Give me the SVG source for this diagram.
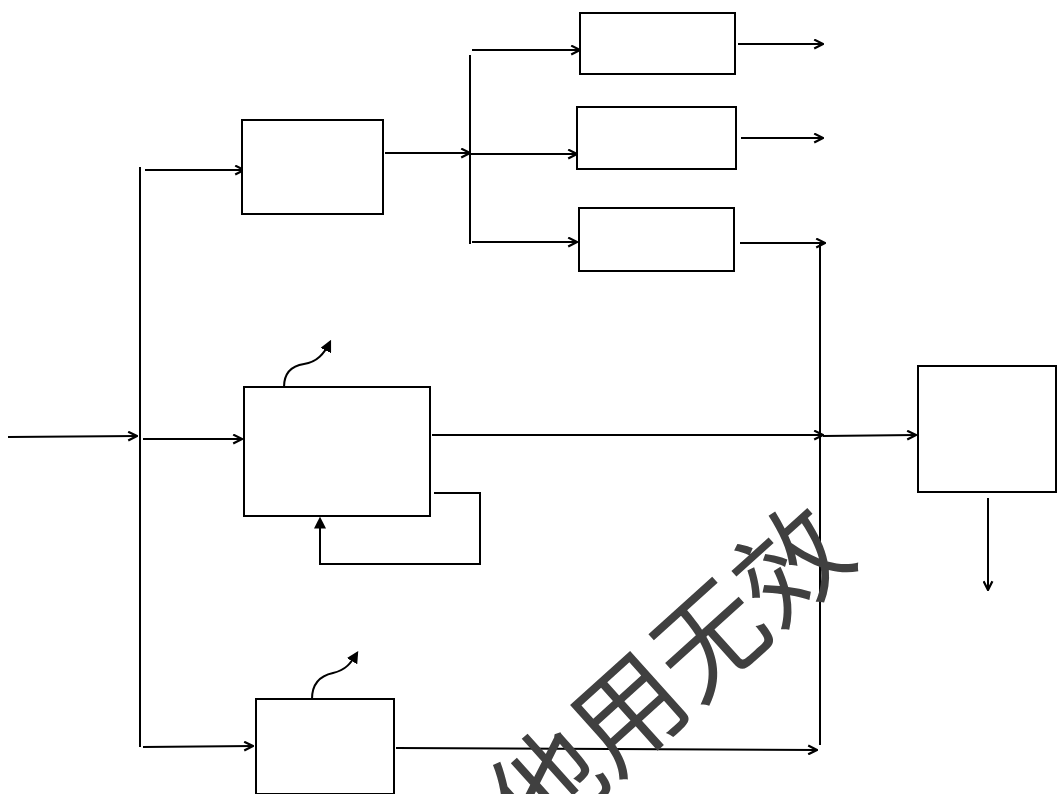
<svg xmlns="http://www.w3.org/2000/svg" width="1057" height="794" viewBox="0 0 1057 794">
<defs>
<style>
.box{fill:#fff;stroke:#000;stroke-width:2}
.ln{fill:none;stroke:#000;stroke-width:2}
.ar{fill:none;stroke:#000;stroke-width:2;marker-end:url(#arr)}
.wv{fill:none;stroke:#000;stroke-width:2;marker-end:url(#tri)}
.wm{font-family:"Noto Sans CJK SC","Noto Sans CJK JP",sans-serif;font-size:110px;fill:#404040}
</style>
<marker id="arr" viewBox="0 0 10 10" refX="9" refY="5" markerWidth="11" markerHeight="11" markerUnits="userSpaceOnUse" orient="auto">
<path d="M1,1 L9,5 L1,9" fill="none" stroke="#000" stroke-width="2"/>
</marker>
<marker id="tri" viewBox="0 0 10 10" refX="8" refY="5" markerWidth="12" markerHeight="12" markerUnits="userSpaceOnUse" orient="auto">
<path d="M0,0 L10,5 L0,10 Z" fill="#000"/>
</marker>
</defs>
<rect width="1057" height="794" fill="#fff"/>
<g id="connectors">
<line class="ar" x1="8" y1="437" x2="137" y2="436"/>
<line class="ln" x1="140" y1="167" x2="140" y2="747"/>
<line class="ar" x1="145" y1="170" x2="244" y2="170"/>
<line class="ar" x1="143" y1="439" x2="242" y2="439"/>
<line class="ar" x1="143" y1="747" x2="253" y2="746"/>
<line class="ar" x1="385" y1="153" x2="470" y2="153"/>
<line class="ln" x1="470" y1="55" x2="470" y2="244"/>
<line class="ar" x1="472" y1="50" x2="580" y2="50"/>
<line class="ar" x1="470" y1="154" x2="577" y2="154"/>
<line class="ar" x1="472" y1="242" x2="577" y2="242"/>
<line class="ar" x1="738" y1="44" x2="823" y2="44"/>
<line class="ar" x1="741" y1="138" x2="823" y2="138"/>
<line class="ar" x1="740" y1="243" x2="825" y2="243"/>
<line class="ln" x1="820" y1="243" x2="820" y2="745"/>
<line class="ar" x1="432" y1="435" x2="823" y2="435"/>
<line class="ar" x1="823" y1="436" x2="916" y2="435"/>
<line class="ar" x1="396" y1="748" x2="817" y2="750"/>
<line class="ar" x1="988" y1="498" x2="988" y2="590"/>
<polyline class="ar" points="434,493 480,493 480,564 320,564 320,519" style="marker-end:url(#tri)"/>
<path class="wv" d="M284,387 C284,373 291,366 304,364 C317,362 324,354 330,342"/>
<path class="wv" d="M312,699 C312,685 319,676 333,673 C346,670 351,663 357,653"/>
</g>
<g id="n1"><rect class="box" x="242" y="120" width="141" height="94"/></g>
<g id="n2"><rect class="box" x="580" y="13" width="155" height="61"/></g>
<g id="n3"><rect class="box" x="577" y="107" width="159" height="62"/></g>
<g id="n4"><rect class="box" x="579" y="208" width="155" height="63"/></g>
<g id="n5"><rect class="box" x="244" y="387" width="186" height="129"/></g>
<g id="n6"><rect class="box" x="256" y="699" width="138" height="95"/></g>
<g id="n7"><rect class="box" x="918" y="366" width="138" height="126"/></g>
<g id="watermark">
<text class="wm" x="664" y="670" text-anchor="middle" dominant-baseline="central" transform="rotate(-42 664 670)">他用无效</text>
</g>
</svg>
